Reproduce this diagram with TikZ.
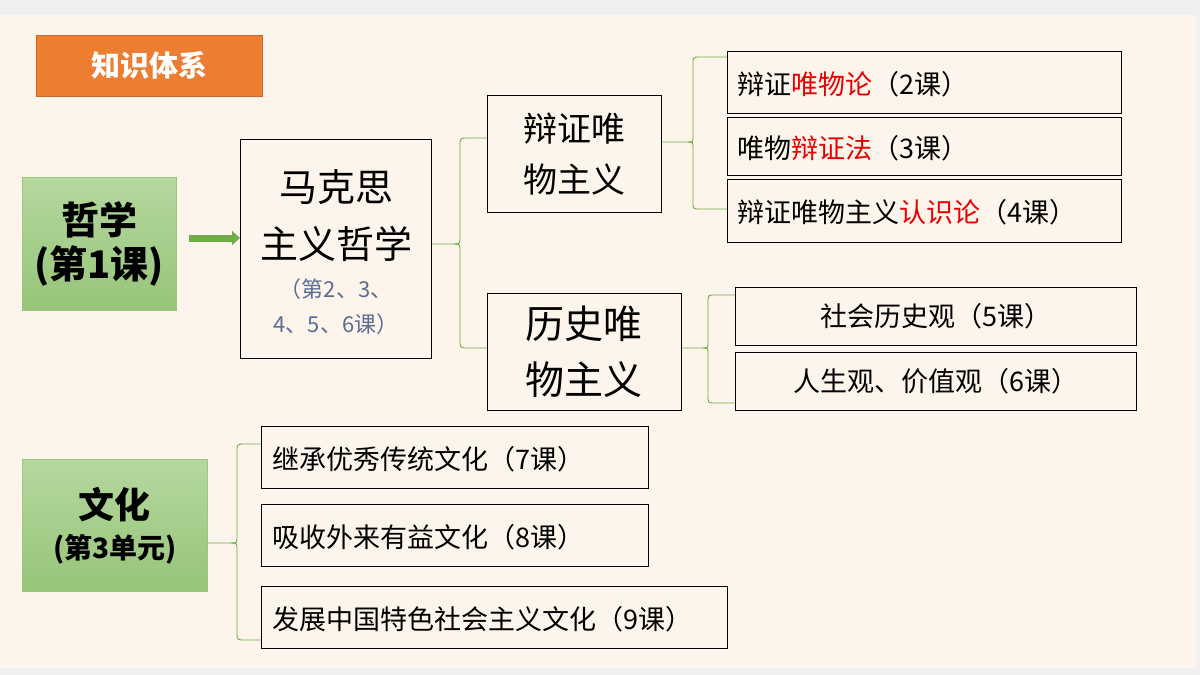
\documentclass[tikz,border=0pt]{standalone}
\usepackage{fontspec}
\usetikzlibrary{arrows.meta}
\setmainfont{Noto Sans CJK SC}
\definecolor{bgc}{HTML}{FDF5EC}
\definecolor{orng}{HTML}{ED7D31}
\definecolor{gtop}{HTML}{B5D89E}
\definecolor{gbot}{HTML}{97C47A}
\definecolor{gline}{HTML}{70AD47}
\definecolor{hred}{HTML}{E60000}
\definecolor{subc}{HTML}{5B6E91}
\begin{document}
\begin{tikzpicture}[x=1pt,y=-1pt,
  bx/.style={draw=black,line width=0.9pt,fill=bgc,inner sep=0pt},
  gbox/.style={draw=gline!70,line width=0.6pt,top color=gtop,bottom color=gbot,inner sep=0pt,align=center,font=\bfseries\fontsize{38}{48}\selectfont},
  leaf/.style={bx,anchor=north west,align=left,text depth=0pt,font=\fontsize{27}{30}\selectfont},
  br/.style={draw=gline,line width=0.9pt}]
\fill[gray!12] (0,0) rectangle (1200,675);
\fill[bgc] (0,15) rectangle (1196,668);
\node[fill=orng,draw=orng!85!black,minimum width=226,minimum height=61,anchor=north west,text=white,font=\bfseries\fontsize{29}{32}\selectfont] (ttl) at (36,35) {知识体系};
% philosophy
\node[gbox,minimum width=154,minimum height=133,anchor=north west] (zx) at (22,177) {哲学\\[-4pt](第1课)};
\node[bx,minimum width=191,minimum height=219,anchor=north west] (mk) at (240,139) {};
\node[align=center,font=\fontsize{38}{57}\selectfont] (mkt) at (336,216) {马克思\\主义哲学};
\node[align=center,text=subc,font=\fontsize{22}{35}\selectfont] (mks) at (336,307) {（第2、3、\\4、5、6课）};
\draw[gline,line width=7pt,-{Triangle[width=14pt,length=8pt]}] (zx.east|-0,238) ++(12,0) -- (mk.west|-0,238);
\node[bx,minimum width=174,minimum height=117,anchor=north west,align=center,font=\fontsize{34}{51}\selectfont] (bz) at (487,95) {辩证唯\\物主义};
\node[bx,minimum width=194,minimum height=117,anchor=north west,align=center,font=\fontsize{39}{56}\selectfont] (ls) at (487,293) {历史唯\\物主义};
\draw[br] (mk.east|-0,244) -- (454,244) .. controls (460,244) .. (460,236) -- (460,146) .. controls (460,138) .. (468,138) -- (bz.west|-0,138);
\draw[br] (454,244) .. controls (460,244) .. (460,252) -- (460,340) .. controls (460,348) .. (468,348) -- (ls.west|-0,348);
% leaves 1
\node[leaf,minimum width=394,minimum height=62,text width=374] (a1) at (727,51) {辩证\textcolor{hred}{唯物论}（2课）};
\node[leaf,minimum width=394,minimum height=58,text width=374] (a2) at (727,117) {唯物\textcolor{hred}{辩证法}（3课）};
\node[leaf,minimum width=394,minimum height=63,text width=374] (a3) at (727,179) {辩证唯物主义\textcolor{hred}{认识论}（4课）};
\draw[br] (bz.east|-0,142) -- (688,142) .. controls (693,142) .. (693,136) -- (693,64) .. controls (693,57) .. (700,57) -- (a1.west|-0,57);
\draw[br] (688,142) .. controls (693,142) .. (693,148) -- (693,202) .. controls (693,209) .. (700,209) -- (a3.west|-0,209);
% leaves 2
\node[bx,minimum width=401,minimum height=58,anchor=north west,font=\fontsize{27}{30}\selectfont] (b1) at (735,287) {社会历史观（5课）};
\node[bx,minimum width=401,minimum height=58,anchor=north west,font=\fontsize{27}{30}\selectfont] (b2) at (735,352) {人生观、价值观（6课）};
\draw[br] (ls.east|-0,348) -- (703,348) .. controls (708,348) .. (708,342) -- (708,302) .. controls (708,295) .. (715,295) -- (b1.west|-0,295);
\draw[br] (703,348) .. controls (708,348) .. (708,354) -- (708,396) .. controls (708,403) .. (715,403) -- (b2.west|-0,403);
% culture
\node[gbox,minimum width=185,minimum height=132,anchor=north west] (wh) at (22,459) {{\fontsize{36}{40}\selectfont 文化}\\[-8pt]{\fontsize{28}{32}\selectfont(第3单元)}};
\node[leaf,minimum width=387,minimum height=62,text width=365] (c1) at (261,426) {继承优秀传统文化（7课）};
\node[leaf,minimum width=387,minimum height=62,text width=365] (c2) at (261,504) {吸收外来有益文化（8课）};
\node[leaf,minimum width=466,minimum height=62,text width=444] (c3) at (261,586) {发展中国特色社会主义文化（9课）};
\draw[br] (wh.east|-0,543) -- (231,543) .. controls (237,543) .. (237,536) -- (237,452) .. controls (237,444) .. (245,444) -- (c1.west|-0,444);
\draw[br] (231,543) .. controls (237,543) .. (237,550) -- (237,632) .. controls (237,640) .. (245,640) -- (c3.west|-0,640);
\end{tikzpicture}
\end{document}
